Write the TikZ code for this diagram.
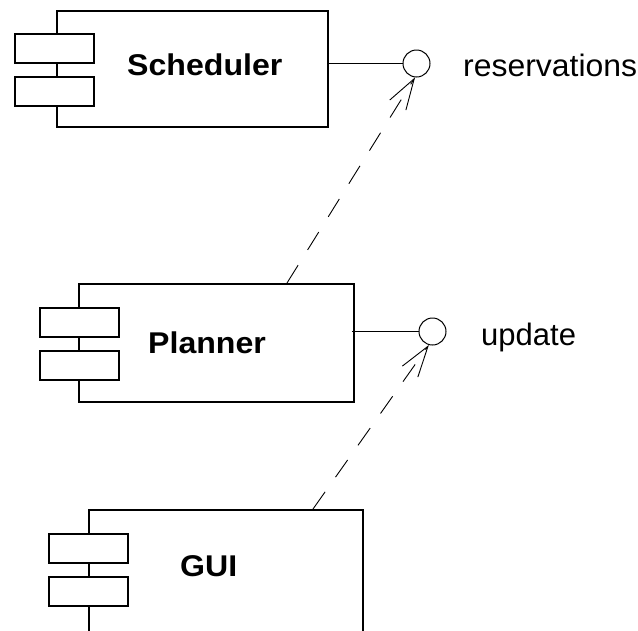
\documentclass[tikz,border=0pt]{standalone}
\usepackage{fontspec}
\setmainfont{Liberation Sans}
\usetikzlibrary{arrows.meta}
\newcommand{\widetxt}[1]{\scalebox{1.07}[1]{#1}}
\begin{document}
\begin{tikzpicture}[x=1pt,y=-1pt,
  comp/.style={draw, line width=1.9pt, fill=white, anchor=north west, inner sep=0pt},
  port/.style={draw, line width=1.9pt, fill=white, minimum width=79pt, minimum height=29pt, anchor=north west, inner sep=0pt},
  lbl/.style={font=\bfseries\fontsize{30}{36}\selectfont, anchor=base west, inner sep=0pt},
  itxt/.style={font=\fontsize{31}{37}\selectfont, anchor=base west, inner sep=0pt},
  iface/.style={circle, draw, line width=1pt, fill=white, minimum size=27pt, inner sep=0pt},
  dep/.style={dash pattern=on 21pt off 18pt, line width=0.9pt, -{Straight Barb[length=31pt,width=19pt,line width=0.9pt]}},
  conn/.style={line width=1.7pt}]
\path[use as bounding box, clip] (0,0) rectangle (638,630);
\fill[white] (0,0) rectangle (638,630);

% Scheduler
\node[comp, minimum width=271pt, minimum height=116pt] (sched) at (56,10) {};
\node[port] (schedp1) at (14,33) {};
\node[port] (schedp2) at (14,76) {};
\node[lbl] (schedlbl) at (127,75) {\widetxt{Scheduler}};

% Planner
\node[comp, minimum width=275pt, minimum height=118pt] (plan) at (78,283) {};
\node[port] (planp1) at (39,307) {};
\node[port] (planp2) at (39,350) {};
\node[lbl] (planlbl) at (148,353) {\widetxt{Planner}};

% GUI
\node[comp, minimum width=274pt, minimum height=160pt] (gui) at (88,509) {};
\node[port] (guip1) at (48,533) {};
\node[port] (guip2) at (48,576) {};
\node[lbl] (guilbl) at (180,576) {\widetxt{GUI}};

% interfaces
\node[iface] (res) at (416.5,63.5) {};
\node[itxt] (reslbl) at (463,76) {\scalebox{1.03}[1]{reservations}};
\node[iface] (upd) at (432.5,331.5) {};
\node[itxt] (updlbl) at (481,345) {update};

\draw[conn] (sched.east |- res) -- (res.west);
\draw[conn] ([xshift=-3pt]plan.east |- upd) -- (upd.west);

% dependencies
\coordinate (d1) at (287,283);
\coordinate (d2) at (313,509);
\draw[dep] (d1) -- (res.-96);
\draw[dep] (d2) -- (upd.-105);
\end{tikzpicture}
\end{document}
